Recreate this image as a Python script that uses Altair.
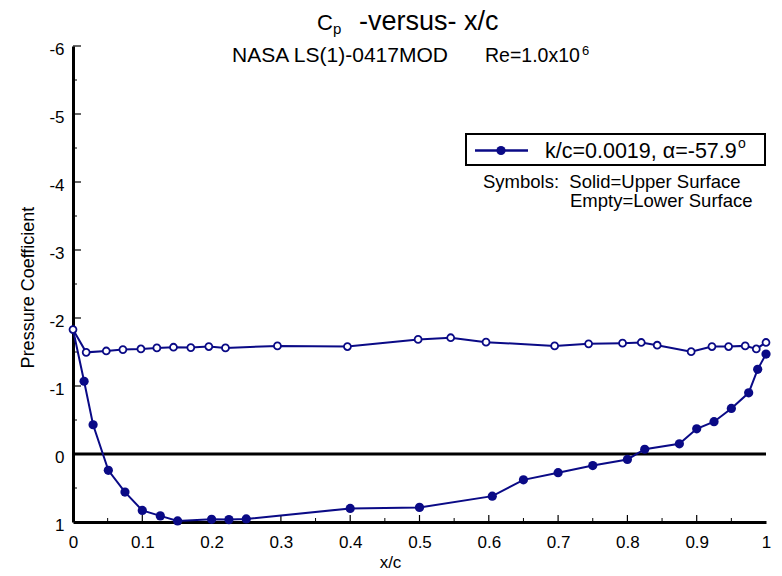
import altair as alt
import pandas as pd

# ---- data ----
upper_x = [0.0, 0.016, 0.029, 0.051, 0.075, 0.100, 0.126, 0.151, 0.200, 0.225, 0.250,
           0.400, 0.500, 0.605, 0.650, 0.700, 0.750, 0.800, 0.825, 0.875, 0.900,
           0.925, 0.950, 0.975, 0.988, 1.000]
upper_cp = [-1.83, -1.07, -0.43, 0.24, 0.56, 0.83, 0.91, 0.985, 0.96, 0.965, 0.955,
            0.80, 0.785, 0.62, 0.38, 0.275, 0.17, 0.08, -0.07, -0.15, -0.37,
            -0.475, -0.67, -0.90, -1.245, -1.47]

lower_x = [0.0, 0.019, 0.048, 0.072, 0.098, 0.121, 0.145, 0.170, 0.196, 0.220, 0.295,
           0.396, 0.498, 0.545, 0.596, 0.695, 0.744, 0.793, 0.820, 0.843, 0.892,
           0.922, 0.946, 0.970, 0.986, 1.000]
lower_cp = [-1.83, -1.495, -1.515, -1.535, -1.545, -1.56, -1.57, -1.565, -1.58, -1.56, -1.59,
            -1.58, -1.685, -1.71, -1.645, -1.59, -1.62, -1.63, -1.64, -1.60, -1.505,
            -1.58, -1.58, -1.59, -1.545, -1.64]

x_ticks = [0, 0.1, 0.2, 0.3, 0.4, 0.5, 0.6, 0.7, 0.8, 0.9, 1]
x_minor = [0.05, 0.15, 0.25, 0.35, 0.45, 0.55, 0.65, 0.75, 0.85, 0.95]
y_ticks = [-6, -5, -4, -3, -2, -1, 0, 1]
y_minor = [-5.5, -4.5, -3.5, -2.5, -1.5, -0.5, 0.5]

title_c = "C"
title_p = "p"
title_rest = "-versus- x/c"
sub_a = "NASA LS(1)-0417MOD"
sub_b = "Re=1.0x10"
sub_sup = "6"
legend_label = "k/c=0.0019, \u03b1=-57.9"
legend_sup = "o"
note1 = "Symbols:\u00a0 Solid=Upper Surface"
note2 = "Empty=Lower Surface"

NAVY = "#0a0a86"
FONT = "Liberation Sans"
W, H = 693, 476

up = pd.DataFrame({"x": upper_x, "cp": upper_cp, "i": range(len(upper_x))})
lo = pd.DataFrame({"x": lower_x, "cp": lower_cp, "i": range(len(lower_x))})

xs = alt.Scale(domain=[0, 1], nice=False, zero=False)
ys = alt.Scale(domain=[-6, 1], nice=False, zero=False, reverse=True)

x_axis = alt.Axis(values=x_ticks, ticks=False, grid=False, domainColor="black", domainWidth=3,
                  labelExpr="'' + datum.value", labelFont=FONT, labelFontSize=17,
                  labelColor="black", labelPadding=12, labelFlush=False, title="x/c",
                  titleFont=FONT, titleFontSize=17, titleFontWeight="normal", titleColor="black",
                  titleX=317, titleY=45, titleBaseline="alphabetic")
y_axis = alt.Axis(values=y_ticks, ticks=False, grid=False, domainColor="black", domainWidth=3,
                  labelExpr="'' + datum.value", labelFont=FONT, labelFontSize=17,
                  labelColor="black", labelPadding=9, labelOffset=3, labelFlush=False,
                  title="Pressure Coefficient", titleFont=FONT, titleFontSize=18,
                  titleFontWeight="normal", titleColor="black", titleX=-40, titleY=241,
                  titleBaseline="alphabetic", titleAngle=-90)


def X(f):
    return alt.X(f, scale=xs, axis=x_axis)


def Y(f):
    return alt.Y(f, scale=ys, axis=y_axis)


base_up = alt.Chart(up)
base_lo = alt.Chart(lo)

# zero line
zero = alt.Chart(pd.DataFrame({"x": [0], "x2": [1], "y": [0]})).mark_rule(
    color="black", strokeWidth=3).encode(x=X("x:Q"), x2="x2:Q", y=Y("y:Q"))

# inward ticks
xt_major = alt.Chart(pd.DataFrame({"x": x_ticks[1:-1]})).mark_rule(color="black", strokeWidth=1.2).encode(
    x=X("x:Q"), y=alt.value(H), y2=alt.value(H - 7))
xt_minor = alt.Chart(pd.DataFrame({"x": x_minor})).mark_rule(color="black", strokeWidth=1).encode(
    x=X("x:Q"), y=alt.value(H), y2=alt.value(H - 4))
yt_major = alt.Chart(pd.DataFrame({"cp": y_ticks[:-1]})).mark_rule(color="black", strokeWidth=1.2).encode(
    y=Y("cp:Q"), x=alt.value(0), x2=alt.value(8))
yt_minor = alt.Chart(pd.DataFrame({"cp": y_minor})).mark_rule(color="black", strokeWidth=1).encode(
    y=Y("cp:Q"), x=alt.value(0), x2=alt.value(4))

up_line = base_up.mark_line(color=NAVY, strokeWidth=2).encode(
    x=X("x:Q"), y=Y("cp:Q"), order="i:Q")
up_pts = base_up.transform_filter("datum.i > 0").mark_point(
    shape="circle", filled=True, color=NAVY, size=85, opacity=1).encode(
    x=X("x:Q"), y=Y("cp:Q"))
lo_line = base_lo.mark_line(color=NAVY, strokeWidth=2).encode(
    x=X("x:Q"), y=Y("cp:Q"), order="i:Q")
lo_pts = base_lo.mark_point(shape="circle", filled=True, fill="white", stroke=NAVY,
                            strokeWidth=1.8, size=48, opacity=1).encode(
    x=X("x:Q"), y=Y("cp:Q"))

one = pd.DataFrame({"a": [0]})


def txt(s, x, y, size, align="left", baseline="alphabetic"):
    return alt.Chart(one).mark_text(text=s, font=FONT, fontSize=size, color="black",
                                    align=align, baseline=baseline).encode(
        x=alt.value(x), y=alt.value(y))


# title pieces
t1 = txt(title_c, 244, -16, 22)
t2 = txt(title_p, 260, -12, 15)
t3 = txt(title_rest, 286, -16, 27)
s1 = txt(sub_a, 159, 16, 21)
s2 = txt(sub_b, 412, 16, 19.5)
s3 = txt(sub_sup, 509, 9, 13)

# legend box
box = alt.Chart(one).mark_rect(fill="white", stroke="black", strokeWidth=2).encode(
    x=alt.value(393), x2=alt.value(692), y=alt.value(88), y2=alt.value(119))
leg_line = alt.Chart(one).mark_rule(color=NAVY, strokeWidth=2.5).encode(
    x=alt.value(402), x2=alt.value(455), y=alt.value(104.5))
leg_pt = alt.Chart(one).mark_point(shape="circle", filled=True, color=NAVY, size=85, opacity=1).encode(
    x=alt.value(428), y=alt.value(104.5))
leg_t = txt(legend_label, 472, 112, 21.5)
leg_s = txt(legend_sup, 665, 102, 14)
n1 = txt(note1, 410, 142, 18.5)
n2 = txt(note2, 497, 161, 18.5)

chart = alt.layer(
    zero, xt_major, xt_minor, yt_major, yt_minor,
    up_line, lo_line, up_pts, lo_pts,
    t1, t2, t3, s1, s2, s3,
    box, leg_line, leg_pt, leg_t, leg_s, n1, n2
).properties(
    width=W, height=H,
    autosize=alt.AutoSizeParams(type="none"),
    padding={"left": 73, "top": 46, "right": 16, "bottom": 54},
    background="white"
).configure_view(strokeWidth=0)

chart.save("out.html", embed_options={"renderer": "svg", "actions": False})
